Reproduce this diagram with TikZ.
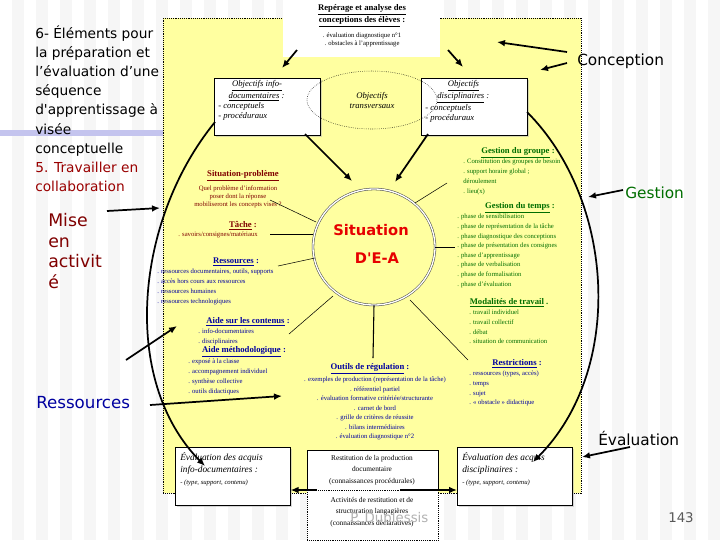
\documentclass[tikz,border=0pt]{standalone}
\usepackage{fontspec}
\setmainfont{Liberation Serif}
\newfontfamily\titlefont{DejaVu Sans}
\newfontfamily\bigfont{DejaVu Sans}
\usetikzlibrary{arrows.meta,shapes.geometric,shadows}
\definecolor{bgyel}{RGB}{255,255,160}
\definecolor{dred}{RGB}{128,0,0}
\definecolor{dblue}{RGB}{0,0,160}
\definecolor{dgreen}{RGB}{0,110,0}
\definecolor{sred}{RGB}{230,0,0}
\begin{document}
\begin{tikzpicture}[x=0.75pt,y=-0.75pt,
  tiny/.style={font=\fontsize{5}{6}\selectfont,inner sep=0pt},
  ttl/.style={font=\fontsize{6.5}{7}\selectfont\bfseries,inner sep=0pt},
  wbox/.style={draw,fill=white,drop shadow={shadow xshift=1.5pt,shadow yshift=-1.5pt,fill=gray!60},inner sep=0pt},
  arr/.style={-{Latex[length=6pt,width=5pt]},line width=1.3pt},
  spoke/.style={line width=0.4pt},
  side/.style={font=\titlefont\fontsize{10.3}{14.4}\selectfont,anchor=north west,align=left,inner sep=0pt}]
\useasboundingbox (0,0) rectangle (720,540);
\fill[gray!7] (0,0) rectangle (720,540);
\foreach \i in {0,24,...,720} \fill[white] (\i,0) rectangle ++(12,540);
\fill[gray!45!blue!30] (0,130) rectangle (163,136);
% yellow panel
\node[draw,densely dotted,fill=bgyel,minimum width=418*0.75pt,minimum height=475*0.75pt,anchor=north west,inner sep=0pt] (panel) at (163,18) {};
% side texts
\node[side] (title) at (35,25) {6- Éléments pour\\la préparation et\\l’évaluation d’une\\séquence\\d'apprentissage à\\visée\\conceptuelle\\\textcolor{dred!80!red}{5. Travailler en}\\\textcolor{dred!80!red}{collaboration}};
\node[side,font=\titlefont\fontsize{13}{15.5}\selectfont,text=dred] (mise) at (48,213) {Mise\\en\\activit\\é};
\node[anchor=west,font=\titlefont\fontsize{12.5}{14}\selectfont,text=dblue,inner sep=0pt] (ress) at (36,403) {Ressources};
\node[anchor=west,font=\titlefont\fontsize{11.5}{14}\selectfont,inner sep=0pt] (concep) at (577,61) {Conception};
\node[anchor=west,font=\titlefont\fontsize{11.5}{14}\selectfont,text=dgreen,inner sep=0pt] (gest) at (625,193) {Gestion};
\node[anchor=west,font=\titlefont\fontsize{11.5}{14}\selectfont,inner sep=0pt] (evalt) at (598,438) {Évaluation};
\node[anchor=west,font=\titlefont\fontsize{10}{12}\selectfont,text=gray!70!black,inner sep=0pt] (num) at (668,518) {143};
% top box
\node[fill=white,minimum width=157*0.75pt,minimum height=57*0.75pt,anchor=north west,inner sep=0pt] (top) at (283,0) {};
\node[ttl,align=center] (toptitle) at (362,16) {\underline{Repérage et analyse des}\\\underline{conceptions des élèves} :};
\node[tiny,align=center] (toptxt) at (362,40) {. évaluation diagnostique n°1\\. obstacles à l'apprentissage};
% objectives
\node[wbox,minimum width=106*0.75pt,minimum height=57*0.75pt,anchor=north west] (oinfo) at (214,78) {};
\node[font=\fontsize{6.5}{7.5}\selectfont\itshape,align=left,anchor=north west,inner sep=0pt] (oinfot) at (218,80) {\hspace{1.6em}\underline{Objectifs info-}\\\hspace{1.2em}\underline{documentaires} :\\- conceptuels\\- procéduraux};
\node[wbox,minimum width=106*0.75pt,minimum height=57*0.75pt,anchor=north west] (odisc) at (421,78) {};
\node[font=\fontsize{6.5}{7.5}\selectfont\itshape,align=left,anchor=north west,inner sep=0pt] (odisct) at (425,80) {\hspace{2.6em}\underline{Objectifs}\\\hspace{1.4em}\underline{disciplinaires} :\\- conceptuels\\- procéduraux};
\node[draw,densely dotted,ellipse,minimum width=130*0.75pt,minimum height=58*0.75pt,inner sep=0pt,align=center,font=\fontsize{6.5}{7.5}\selectfont\itshape] (otrans) at (372,100) {Objectifs\\transversaux};
% situation circle
\node[draw,double=white,double distance=1pt,draw=gray!60!black,ellipse,minimum width=122*0.75pt,minimum height=116*0.75pt,inner sep=0pt] (sit) at (374,247) {};
\node[font=\bigfont\bfseries\fontsize{11}{13}\selectfont,text=sred,inner sep=0pt] (sit1) at (371,230) {Situation};
\node[font=\bigfont\bfseries\fontsize{11}{13}\selectfont,text=sred,inner sep=0pt] (sit2) at (377,258) {D'E-A};
% left text blocks
\node[ttl,text=dred] (sp) at (243,176) {\underline{Situation-problème}};
\node[tiny,text=dred,align=center] (spt) at (238,197) {Quel problème d'information\\poser dont la réponse\\mobiliseront les concepts visés ?};
\node[ttl,text=dred] (tache) at (243,226) {\underline{Tâche} :};
\node[tiny,text=dred] (tachet) at (218,235) {. savoirs/consignes/matériaux};
\node[ttl,text=dblue] (ressb) at (236,262) {\underline{Ressources} :};
\node[tiny,text=dblue,align=left,anchor=north west,font=\fontsize{5}{7.3}\selectfont] (resst) at (157,269) {. ressources documentaires, outils, supports\\. accès hors cours aux ressources\\. ressources humaines\\. ressources technologiques};
\node[ttl,text=dblue] (aide) at (248,322) {\underline{Aide sur les contenus} :};
\node[tiny,text=dblue,align=left,anchor=north west,font=\fontsize{5}{7.3}\selectfont] (aidet) at (198,329) {. info-documentaires\\. disciplinaires};
\node[ttl,text=dblue] (meth) at (244,352) {\underline{Aide méthodologique} :};
\node[tiny,text=dblue,align=left,anchor=north west,font=\fontsize{5}{7.3}\selectfont] (metht) at (188,359) {. exposé à la classe\\. accompagnement individuel\\. synthèse collective\\. outils didactiques};
\node[ttl,text=dblue] (outil) at (370,369) {\underline{Outils de régulation} :};
\node[tiny,text=dblue,align=center,anchor=north,font=\fontsize{5}{7.1}\selectfont] (outilt) at (375,377) {. exemples de production (représentation de la tâche)\\. référentiel partiel\\. évaluation formative critériée/structurante\\. carnet de bord\\. grille de critères de réussite\\. bilans intermédiaires\\. évaluation diagnostique n°2};
% right text blocks
\node[ttl,text=dgreen] (gg) at (518,153) {\underline{Gestion du groupe} :};
\node[tiny,text=dgreen,align=left,anchor=north west,font=\fontsize{5}{7.4}\selectfont] (ggt) at (463,159) {. Constitution des groupes de besoin\\. support horaire global ;\\déroulement\\. lieu(x)};
\node[ttl,text=dgreen] (gt) at (520,208) {\underline{Gestion du temps} :};
\node[tiny,text=dgreen,align=left,anchor=north west,font=\fontsize{5}{7.2}\selectfont] (gtt) at (457,214) {. phase de sensibilisation\\. phase de représentation de la tâche\\. phase diagnostique des conceptions\\. phase de présentation des consignes\\. phase d'apprentissage\\. phase de verbalisation\\. phase de formalisation\\. phase d'évaluation};
\node[ttl,text=dgreen] (mod) at (509,303) {\underline{Modalités de travail} .};
\node[tiny,text=dgreen,align=left,anchor=north west,font=\fontsize{5}{7.2}\selectfont] (modt) at (469,310) {. travail individuel\\. travail collectif\\. débat\\. situation de communication};
\node[ttl,text=dblue] (restr) at (517,364) {\underline{Restrictions} :};
\node[tiny,text=dblue,align=left,anchor=north west,font=\fontsize{5}{7.2}\selectfont] (restrt) at (469,371) {. ressources (types, accès)\\. temps\\. sujet\\. « obstacle » didactique};
% bottom boxes
\node[wbox,minimum width=115*0.75pt,minimum height=58*0.75pt,anchor=north west] (einfo) at (175,447) {};
\node[font=\fontsize{7}{9}\selectfont\itshape,align=left,anchor=north west,inner sep=0pt] (einfot) at (180,452) {Évaluation des acquis\\info-documentaires :\\{\fontsize{5}{7}\selectfont - (type, support, contenu)}};
\node[wbox,minimum width=115*0.75pt,minimum height=58*0.75pt,anchor=north west] (edisc) at (457,447) {};
\node[font=\fontsize{7}{9}\selectfont\itshape,align=left,anchor=north west,inner sep=0pt] (edisct) at (462,452) {Évaluation des acquis\\disciplinaires :\\{\fontsize{5}{7}\selectfont - (type, support, contenu)}};
\node[draw,fill=white,minimum width=131*0.75pt,minimum height=40*0.75pt,anchor=north west,inner sep=0pt] (rest1) at (307,450) {};
\node[tiny,align=center,font=\fontsize{5.5}{8.5}\selectfont] (rest1t) at (372,470) {Restitution de la production\\documentaire\\(connaissances procédurales)};
\node[draw,densely dotted,fill=white,minimum width=131*0.75pt,minimum height=50*0.75pt,anchor=north west,inner sep=0pt] (rest2) at (307,490) {};
\node[tiny,align=center,font=\fontsize{5.5}{8.5}\selectfont] (rest2t) at (372,512) {Activités de restitution et de\\structuration langagières\\(connaissances déclaratives)};
\node[anchor=west,font=\titlefont\fontsize{10}{12}\selectfont,text=gray!60,inner sep=0pt] (dup) at (350,519) {P. Duplessis};
% arrows
\draw[arr] (297,50) coordinate (ta) -- (282,68) coordinate (x1);
\draw[arr] (448,50) coordinate (tb) -- (463,67) coordinate (x2);
\draw[arr] (567,52) coordinate (c1) -- (497,42) coordinate (c1e);
\draw[arr] (567,63) coordinate (c2) -- (540,70) coordinate (c2e);
\draw[arr] (305,134) coordinate (o1) -- (352,181) coordinate (s1);
\draw[arr] (428,134) coordinate (o2) -- (395,182) coordinate (s2);
% spokes
\draw[spoke] (270,200) coordinate (p1) -- (316,222) coordinate (q1);
\draw[spoke] (270,234) coordinate (p2) -- (313,234) coordinate (q2);
\draw[spoke] (278,266) coordinate (p3) -- (315,258) coordinate (q3);
\draw[spoke] (289,334) coordinate (p4) -- (333,296) coordinate (q4);
\draw[line width=0.8pt] (sit.south) -- (373,358) coordinate (p5);
\draw[spoke] (410,300) coordinate (q6) -- (468,360) coordinate (p6);
\draw[spoke] (sit.east) -- (455,247) coordinate (p7);
\draw[spoke] (415,203) coordinate (q8) -- (447,183) coordinate (p8);
% big arcs
\draw[arr] (215,122) coordinate (l0) .. controls (135,220) and (120,380) .. (205,466) coordinate (l1);
\draw[arr] (527,112) coordinate (r0) .. controls (615,200) and (625,370) .. (533,462) coordinate (r1);
% side arrows
\draw[arr] (107,211) coordinate (m0) -- (160,208) coordinate (m1);
\draw[arr] (126,360) coordinate (a0) -- (177,326) coordinate (a1);
\draw[arr] (150,405) coordinate (b0) -- (282,396) coordinate (b1);
\draw[arr] (623,190) coordinate (g0) -- (588,197) coordinate (g1);
\draw[arr] (630,447) coordinate (e0) -- (582,457) coordinate (e1);
\draw[arr] (317,490) coordinate (k0) -- (einfo.east |- 0,490) coordinate (k1);
\draw[arr] (400,490) coordinate (k2) -- (edisc.west |- 0,490) coordinate (k3);
\end{tikzpicture}
\end{document}
